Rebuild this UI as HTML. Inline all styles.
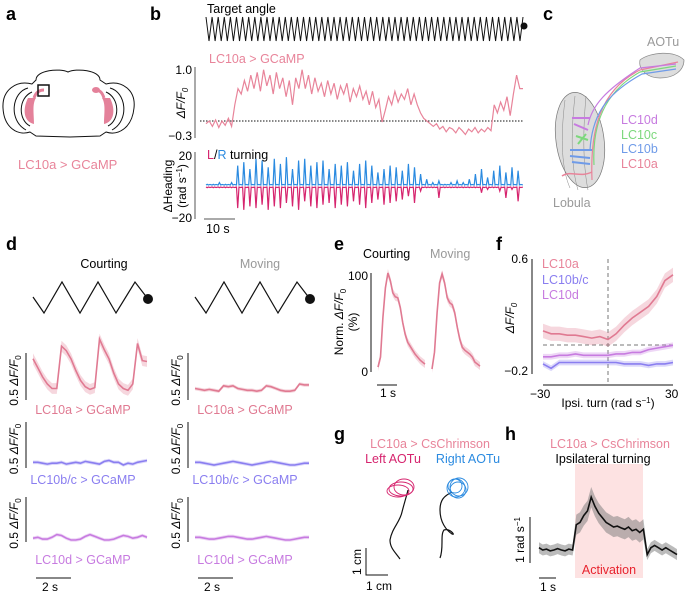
<!DOCTYPE html>
<html><head><meta charset="utf-8"><style>
body{margin:0;background:#fff}
svg{display:block;font-family:"Liberation Sans",sans-serif}
.lt{font-weight:bold;font-size:18px}
</style></head><body>
<svg id="fig" width="685" height="591" viewBox="0 0 685 591" xmlns="http://www.w3.org/2000/svg">
<g>
<text class="lt" x="6" y="20">a</text>
<path d="M36,80 C36,70 60,68 68,72 C76,68 100,70 100,80 L106,84 C122,80 136,90 134,108 C132,128 118,136 106,132 L100,136 L70,137 L36,136 L30,132 C18,136 4,128 3,108 C2,90 16,80 32,84 Z" fill="none" stroke="#111" stroke-width="1"/>
<path d="M28,88 C12,92 8,120 26,130 M32,92 C18,98 18,120 30,126 M110,88 C126,92 130,120 112,130 M106,92 C120,98 120,120 108,126" fill="none" stroke="#111"/>
<path d="M28,98 C22,110 24,122 34,124 C34,114 32,104 36,98 Z" fill="#e4819a"/>
<path d="M110,98 C116,110 114,122 104,124 C104,114 106,104 102,98 Z" fill="#e4819a"/>
<path d="M34,98 C36,92 40,90 44,90 M104,98 C102,92 100,90 94,90" stroke="#e4819a" stroke-width="3" fill="none"/>
<ellipse cx="96" cy="90" rx="4" ry="3" fill="#e4819a"/>
<rect x="38" y="85" width="11" height="11" fill="none" stroke="#111" stroke-width="1.5"/>
<text x="18" y="169" font-size="13" fill="#e8849a">LC10a &gt; GCaMP</text>
</g>
<g>
<text class="lt" x="150" y="20">b</text>
<text x="207" y="13" font-size="12.5">Target angle</text>
<polyline id="zig" fill="none" stroke="#111" stroke-width="1"/>
<circle cx="524" cy="26" r="3.5" fill="#111"/>
<text x="209" y="63" font-size="12.5" fill="#e8849a">LC10a &gt; GCaMP</text>
<line x1="195" y1="67" x2="195" y2="138" stroke="#555"/>
<text x="192" y="74" font-size="12" text-anchor="end">1.0</text>
<text x="192" y="140" font-size="12" text-anchor="end">−0.3</text>
<text transform="translate(185,103) rotate(-90)" font-size="12" text-anchor="middle" font-style="italic">ΔF/F<tspan font-size="8" dy="3">0</tspan></text>
<line x1="200" y1="121" x2="523" y2="121" stroke="#111" stroke-dasharray="1.5,1.5"/>
<polyline id="bgcamp" fill="none" stroke="#e8849a" stroke-width="1.2"/>
<text x="207" y="159" font-size="12.5"><tspan fill="#d6246e">L</tspan>/<tspan fill="#2a8ae0">R</tspan> turning</text>
<line x1="195" y1="152" x2="195" y2="219" stroke="#555"/>
<text x="192" y="160" font-size="12" text-anchor="end">20</text>
<text x="192" y="222" font-size="12" text-anchor="end">−20</text>
<text transform="translate(172,186) rotate(-90)" font-size="12" text-anchor="middle">ΔHeading</text>
<text transform="translate(186,186) rotate(-90)" font-size="12" text-anchor="middle">(rad s<tspan font-size="8" dy="-4">−1</tspan><tspan dy="4">)</tspan></text>
<polyline id="bleft" fill="none" stroke="#d6246e" stroke-width="1.2"/>
<polyline id="bright" fill="none" stroke="#2a8ae0" stroke-width="1.2"/>
<line x1="204" y1="219" x2="235" y2="219" stroke="#555"/>
<text x="206" y="233" font-size="12.5">10 s</text>
</g>
<g>
<text class="lt" x="543" y="20">c</text>
<text x="647" y="46" font-size="12.5" fill="#999">AOTu</text>
<path d="M640,60 C650,52 675,50 684,60 C684,70 675,78 660,78 C648,78 638,70 640,60 Z" fill="#ddd" stroke="#888" stroke-width="0.7"/>
<ellipse cx="580" cy="140" rx="24" ry="48" transform="rotate(-8 580 140)" fill="#ddd" stroke="#777" stroke-width="0.7"/>
<path d="M565,100 C560,140 562,170 570,188 M575,96 C570,140 572,170 578,190 M586,96 C582,140 584,170 588,190" fill="none" stroke="#888" stroke-width="0.5"/>
<path d="M592,180 C590,130 600,90 640,70 L678,62" fill="none" stroke="#e8849a" stroke-width="1.2"/>
<path d="M594,165 C592,125 604,92 640,72 L676,66" fill="none" stroke="#7dd87d" stroke-width="1.2"/>
<path d="M590,150 C592,115 606,94 642,74 L676,69" fill="none" stroke="#6f9be8" stroke-width="1.2"/>
<path d="M588,125 C592,105 606,90 640,68 L676,64" fill="none" stroke="#c77be0" stroke-width="1.2"/>
<path d="M572,118 L590,118 M574,124 L588,130" stroke="#c77be0" stroke-width="2"/>
<path d="M576,136 L588,140 M578,144 L586,134" stroke="#7dd87d" stroke-width="2"/>
<path d="M570,150 L592,150 M570,156 L590,158 M572,162 L590,164" stroke="#6f9be8" stroke-width="2"/>
<path d="M562,176 C570,170 580,178 592,172" fill="none" stroke="#e8849a" stroke-width="1.5"/>
<text x="621" y="124" font-size="12.5" fill="#c77be0">LC10d</text>
<text x="621" y="139" font-size="12.5" fill="#7dd87d">LC10c</text>
<text x="621" y="153" font-size="12.5" fill="#6f9be8">LC10b</text>
<text x="621" y="168" font-size="12.5" fill="#e8849a">LC10a</text>
<text x="553" y="207" font-size="12.5" fill="#999">Lobula</text>
</g>
<g id="pd">
<text class="lt" x="6" y="250">d</text>
<text x="104" y="268" font-size="12.5" text-anchor="middle">Courting</text>
<text x="260" y="268" font-size="12.5" text-anchor="middle" fill="#999">Moving</text>
</g>
<g id="pe">
<text class="lt" x="334" y="250">e</text>
<text x="363" y="258" font-size="12.5">Courting</text>
<text x="430" y="258" font-size="12.5" fill="#999">Moving</text>
<line x1="371" y1="273" x2="371" y2="372" stroke="#111"/>
<text x="368" y="280" font-size="12" text-anchor="end">100</text>
<text x="368" y="376" font-size="12" text-anchor="end">0</text>
<text transform="translate(343,322) rotate(-90)" font-size="12" text-anchor="middle">Norm. <tspan font-style="italic">ΔF/F</tspan><tspan font-size="8" dy="3">0</tspan></text>
<text transform="translate(357,322) rotate(-90)" font-size="12" text-anchor="middle">(%)</text>
<line x1="377" y1="385" x2="397" y2="385" stroke="#111"/>
<text x="380" y="397" font-size="12">1 s</text>
</g>
<g id="pf">
<text class="lt" x="496" y="250">f</text>
<line x1="532" y1="259" x2="532" y2="374" stroke="#111"/>
<text x="528" y="263" font-size="12" text-anchor="end">0.6</text>
<text x="528" y="375" font-size="12" text-anchor="end">−0.2</text>
<text transform="translate(514,318) rotate(-90)" font-size="12" text-anchor="middle" font-style="italic">ΔF/F<tspan font-size="8" dy="3">0</tspan></text>
<line x1="543" y1="385" x2="673" y2="385" stroke="#111"/>
<text x="530" y="398" font-size="12">−30</text>
<text x="665" y="398" font-size="12">30</text>
<text x="608" y="407" font-size="12" text-anchor="middle">Ipsi. turn (rad s<tspan font-size="8" dy="-4">−1</tspan><tspan dy="4">)</tspan></text>
<line x1="608" y1="259" x2="608" y2="385" stroke="#777" stroke-dasharray="4,3"/>
<line x1="543" y1="345" x2="673" y2="345" stroke="#777" stroke-dasharray="4,3"/>
<text x="542" y="268" font-size="12.5" fill="#e8849a">LC10a</text>
<text x="542" y="284" font-size="12.5" fill="#8a7ef0">LC10b/c</text>
<text x="542" y="299" font-size="12.5" fill="#c77be0">LC10d</text>
</g>
<g>
<text class="lt" x="334" y="440">g</text>
<text x="430" y="448" font-size="12.5" text-anchor="middle" fill="#e8849a">LC10a &gt; CsChrimson</text>
<text x="393" y="463" font-size="12.5" text-anchor="middle" fill="#d6246e">Left AOTu</text>
<text x="468" y="463" font-size="12.5" text-anchor="middle" fill="#2a8ae0">Right AOTu</text>
<path d="M400,559 C395,552 390,548 390,540 C392,528 400,522 402,512 C404,504 406,498 408,490" fill="none" stroke="#111" stroke-width="1.2"/>
<g fill="none" stroke="#d6246e" stroke-width="0.9"><ellipse cx="401" cy="489" rx="12" ry="7"/><ellipse cx="404" cy="487" rx="10" ry="8"/><ellipse cx="398" cy="491" rx="11" ry="6"/></g>
<path d="M440,558 C444,548 440,535 444,530 C450,528 456,536 452,534 C446,530 440,522 440,510 C440,500 444,496 452,492" fill="none" stroke="#111" stroke-width="1.2"/>
<g fill="none" stroke="#2a8ae0" stroke-width="0.9"><circle cx="456" cy="488" r="9"/><circle cx="458" cy="490" r="8"/><circle cx="455" cy="486" r="7"/><circle cx="459" cy="487" r="9"/></g>
<path d="M366,548 L366,575 L388,575" fill="none" stroke="#111"/>
<text transform="translate(361,562) rotate(-90)" font-size="12" text-anchor="middle">1 cm</text>
<text x="366" y="590" font-size="12">1 cm</text>
</g>
<g id="ph">
<text class="lt" x="505" y="440">h</text>
<rect x="575" y="464" width="68" height="114" fill="#fde2e2"/>
<text x="610" y="448" font-size="12.5" text-anchor="middle" fill="#e8849a">LC10a &gt; CsChrimson</text>
<text x="603" y="463" font-size="12.5" text-anchor="middle">Ipsilateral turning</text>
<text x="609" y="574" font-size="12.5" text-anchor="middle" fill="#e8232e">Activation</text>
<line x1="530" y1="517" x2="530" y2="563" stroke="#111"/>
<text transform="translate(524,540) rotate(-90)" font-size="12" text-anchor="middle">1 rad s<tspan font-size="8" dy="-4">−1</tspan></text>
<line x1="539" y1="578" x2="556" y2="578" stroke="#111"/>
<text x="540" y="591" font-size="12">1 s</text>
</g>
</svg>
<script>
// ---- panel b data ----
const zigCycles = 52;
const bGcamp = [-0.05,0.0,-0.1,0.02,-0.12,0.0,-0.08,0.05,-0.1,
0.3,0.6,0.5,0.75,0.55,0.85,0.6,0.9,0.55,0.95,0.65,0.85,
0.5,0.9,0.6,0.8,0.45,0.75,0.3,0.8,0.6,0.95,
0.6,0.85,0.5,0.8,0.55,0.7,0.45,0.75,0.5,0.7,0.4,0.65,0.5,0.7,
0.35,0.6,0.45,0.65,0.4,0.55,0.3,0.55,0.25,0.4,-0.02,
0.2,0.45,0.3,0.55,0.35,0.5,0.4,0.6,0.3,0.5,0.3,
0.15,0.05,0.0,-0.05,-0.1,-0.05,
-0.15,-0.1,-0.2,-0.12,-0.15,-0.22,-0.12,-0.18,-0.25,-0.15,-0.2,-0.12,-0.22,-0.15,-0.2,-0.12,-0.18,
0.3,0.15,0.35,0.2,0.45,0.1,0.5,0.85,0.6,0.6];
const rightTurn = [1,1,2,1,2,12,14,10,16,15,11,16,13,17,10,15,16,12,14,15,10,13,12,14,9,13,15,12,8,10,12,11,9,13,11,7,4,2,3,1,2,3,2,4,7,10,5,9,12,8,11,9];
const leftTurn = [-1,-1,-1,-1,-1,-13,-14,-12,-13,-11,-14,-12,-13,-10,-12,-14,-9,-12,-13,-11,-10,-13,-11,-12,-9,-11,-13,-10,-8,-11,-10,-9,-8,-6,-10,-3,-1,-1,-7,-1,-1,-1,-1,-1,-1,-4,-2,-1,-3,-7,-2,-9];
// ---- panel d data ----
const courtA = [0.38,0.28,0.18,0.1,0.05,0.05,0.52,0.47,0.38,0.25,0.14,0.07,0.04,0.06,0.6,0.48,0.38,0.22,0.1,0.05,0.03,0.1,0.55,0.36,0.35];
const moveA = [0.05,0.04,0.03,0.04,0.03,0.02,0.08,0.07,0.08,0.05,0.04,0.03,0.03,0.02,0.03,0.08,0.07,0.05,0.03,0.02,0.02,0.03,0.1,0.09,0.09];
const courtBC = [0.03,0.03,0.02,0.01,0.02,0.02,0.03,0.01,0.02,0.03,0.02,0.04,0.03,0.02,0.01,0.04,0.05,0.03,0.03,0.0,0.02,0.01,0.03,0.04,0.05];
const moveBC = [0.03,0.03,0.02,0.01,0.0,0.01,0.02,0.03,0.04,0.03,0.02,0.01,0.0,0.01,0.02,0.03,0.04,0.03,0.02,0.01,0.0,0.0,0.01,0.02,0.02];
const courtD = [0.02,0.03,0.01,0.01,0.03,0.06,0.05,0.02,0.0,0.0,0.01,0.04,0.06,0.04,0.02,0.0,0.0,0.01,0.03,0.05,0.04,0.02,0.03,0.05,0.03];
const moveD = [0.03,0.03,0.02,0.01,0.01,0.02,0.03,0.04,0.04,0.03,0.02,0.01,0.01,0.02,0.03,0.04,0.03,0.02,0.01,0.0,0.0,0.01,0.02,0.03,0.03];
// ---- panel e data ----
const eCourt = [5,15,55,85,100,92,80,76,75,65,50,38,30,26,22,18,15,12,10,8];
const eMove = [3,20,60,90,99,90,75,70,68,60,45,33,25,22,20,18,15,10,8,6];
// ---- panel f data ----
const fTurn = [-30,-26.25,-22.5,-18.75,-15,-11.25,-7.5,-3.75,0,3.75,7.5,11.25,15,18.75,22.5,26.25,30];
const fA = [0.10,0.08,0.08,0.07,0.07,0.06,0.05,0.06,0.04,0.08,0.14,0.19,0.23,0.27,0.34,0.45,0.49];
const fBC = [-0.13,-0.16,-0.12,-0.12,-0.12,-0.12,-0.12,-0.12,-0.12,-0.12,-0.13,-0.13,-0.13,-0.14,-0.13,-0.13,-0.12];
const fD = [-0.08,-0.08,-0.07,-0.07,-0.06,-0.07,-0.07,-0.07,-0.07,-0.06,-0.06,-0.05,-0.05,-0.03,-0.02,-0.01,0.0];
// ---- panel h data ----
const hTurn = [0.05,0.0,0.02,-0.02,0.0,0.03,0.0,-0.02,0.02,0.0,0.55,0.6,0.75,0.85,1.15,0.95,0.8,0.7,0.6,0.55,0.5,0.52,0.48,0.45,0.5,0.42,0.45,0.38,0.45,-0.1,0.05,0.1,0.05,0.0,0.05,0.0,-0.05,-0.1];

const NS='http://www.w3.org/2000/svg';
function lin(d0,d1,r0,r1){return v=>r0+(v-d0)/(d1-d0)*(r1-r0);}
function pts(arr,xs,ys){return arr.map((v,i)=>xs(i).toFixed(1)+','+ys(v).toFixed(1)).join(' ');}
function mk(tag,parent,attrs){const e=document.createElementNS(NS,tag);for(const k in attrs)e.setAttribute(k,attrs[k]);parent.appendChild(e);return e;}
function band(parent,arr,xs,ys,w,col){const up=arr.map((v,i)=>xs(i).toFixed(1)+','+ys(v+w).toFixed(1));const dn=arr.map((v,i)=>xs(i).toFixed(1)+','+ys(v-w).toFixed(1)).reverse();
const p=mk('polygon',parent,{points:up.concat(dn).join(' '),fill:col,opacity:0.3});


return p;}

// panel b
{let zp=[];const zx=lin(0,zigCycles,206,523);
for(let i=0;i<=zigCycles;i++){zp.push(zx(i).toFixed(1)+',17');if(i<zigCycles)zp.push(zx(i+0.5).toFixed(1)+',41');}
document.getElementById('zig').setAttribute('points',zp.join(' '));
const gy=lin(0,1,121,67),gx=lin(0,bGcamp.length-1,206,523);
document.getElementById('bgcamp').setAttribute('points',pts(bGcamp,gx,gy));
const ty=lin(0,20,186,152),cx=lin(0,zigCycles,206,523);
function spikes(arr,sgn){let p=[];arr.forEach((v,i)=>{const x=cx(i);const b=ty(sgn*0.6);p.push(x.toFixed(1)+','+b,(x+1.2).toFixed(1)+','+ty(v),(x+2.5).toFixed(1)+','+b,(x+4).toFixed(1)+','+ty(sgn*0.9),(x+6).toFixed(1)+','+b);});return p.join(' ');}
document.getElementById('bright').setAttribute('points',spikes(rightTurn,1));
document.getElementById('bleft').setAttribute('points',spikes(leftTurn,-1));}

// panel d
{const pd=document.getElementById('pd');
const cols=[{x0:33,off:0,data:[courtA,courtBC,courtD]},{x0:195,off:162,data:[moveA,moveBC,moveD]}];
const rows=[{zero:393,ax:[353,400],col:'#e07a92',lab:'LC10a > GCaMP',ly:414},{zero:465,ax:[422,468],col:'#8a7ef0',lab:'LC10b/c > GCaMP',ly:484},{zero:540,ax:[497,542],col:'#c77be0',lab:'LC10d > GCaMP',ly:564}];
cols.forEach(c=>{
 const z=[[33,297],[44,313],[62,282],[80,313],[98,282],[116,313],[135,282],[148,299]].map(p=>(p[0]+c.off)+','+p[1]).join(' ');
 const zl=mk('polyline',pd,{points:z,fill:'none',stroke:'#111','stroke-width':1.2});
 
 
 const dot=mk('circle',pd,{cx:148+c.off,cy:299,r:5,fill:'#111'});
 
 
 rows.forEach((r,ri)=>{
  const axx=26+c.off;
  mk('line',pd,{x1:axx,y1:r.ax[0],x2:axx,y2:r.ax[1],stroke:'#111'});
  const t=mk('text',pd,{transform:`translate(${axx-8},${(r.ax[0]+r.ax[1])/2+4}) rotate(-90)`,'font-size':12,'text-anchor':'middle'});
  t.innerHTML='0.5 <tspan font-style="italic">ΔF/F</tspan><tspan font-size="8" dy="3">0</tspan>';
  const arr=c.data[ri];
  const xs=lin(0,arr.length-1,c.x0,c.x0+114),ys=lin(0,1,r.zero,r.zero-90);
  band(pd,arr,xs,ys,ri==0&&c.off==0?0.06:0.02,r.col);
  const l=mk('polyline',pd,{points:pts(arr,xs,ys),fill:'none',stroke:r.col,'stroke-width':1.6});
  
  
  const lb=mk('text',pd,{x:c.x0+50,y:r.ly,'font-size':12.5,'text-anchor':'middle',fill:r.col});
  lb.textContent=r.lab;
 });
 mk('line',pd,{x1:36+c.off,y1:578,x2:71+c.off,y2:578,stroke:'#111'});
 const s=mk('text',pd,{x:42+c.off,y:591,'font-size':12});s.textContent='2 s';
});}

// panel e
{const pe=document.getElementById('pe');const ys=lin(0,100,372,273);
[[eCourt,378,425],[eMove,432,480]].forEach(([a,x0,x1])=>{const xs=lin(0,a.length-1,x0,x1);
 band(pe,a,xs,ys,4,'#e07a92');
 const l=mk('polyline',pe,{points:pts(a,xs,ys),fill:'none',stroke:'#e07a92','stroke-width':1.6});
 
 });}

// panel f
{const pf=document.getElementById('pf');const xs0=lin(-30,30,543,673),ys=lin(-0.2,0.6,374,259);
const xs=i=>xs0(fTurn[i]);
[[fA,'#e07a92',0.05],[fBC,'#8a7ef0',0.02],[fD,'#c77be0',0.02]].forEach(([a,c,w])=>{
 band(pf,a,xs,ys,w,c);
 const l=mk('polyline',pf,{points:pts(a,xs,ys),fill:'none',stroke:c,'stroke-width':1.6});
 
 });}

// panel h
{const ph=document.getElementById('ph');const xs=lin(0,hTurn.length-1,539,677),ys=lin(0,1,550,504);
const up=hTurn.map((v,i)=>xs(i).toFixed(1)+','+ys(v+0.12+(v>0.3?0.1:0)).toFixed(1));
const dn=hTurn.map((v,i)=>xs(i).toFixed(1)+','+ys(v-0.12-(v>0.3?0.1:0)).toFixed(1)).reverse();
const b=mk('polygon',ph,{points:up.concat(dn).join(' '),fill:'#777',opacity:0.5});


const l=mk('polyline',ph,{points:pts(hTurn,xs,ys),fill:'none',stroke:'#111','stroke-width':1.6});

}
</script>
</body></html>
